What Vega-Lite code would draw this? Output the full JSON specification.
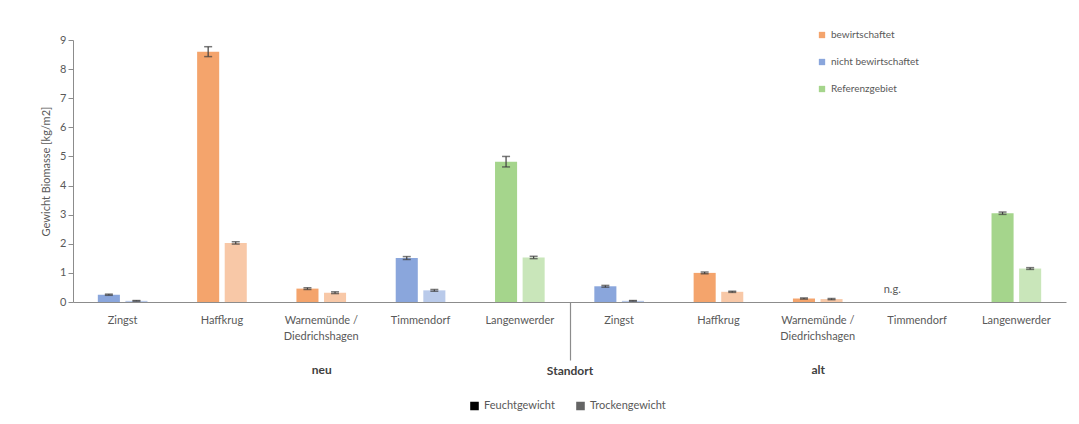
{
  "$schema": "https://vega.github.io/schema/vega-lite/v6.json",
  "width": 993,
  "height": 262,
  "padding": {"left": 40, "top": 30, "right": 5, "bottom": 5},
  "background": "white",
  "config": {
    "font": "Lato",
    "view": {"stroke": null},
    "axis": {"labelColor": "#595959", "titleColor": "#595959", "labelFontSize": 11, "titleFontSize": 11, "titleFontWeight": "normal", "domainColor": "#8c8c8c", "tickColor": "#8c8c8c", "grid": false},
    "axisY": {"values": [0, 1, 2, 3, 4, 5, 6, 7, 8, 9], "labelOverlap": false, "tickSize": 5, "titlePadding": 8}
  },
  "datasets": {
    "bars": [
      {"id": "neu|Zingst", "kategorie": "nicht bewirtschaftet", "art": "Feuchtgewicht", "wert": 0.25, "lo": 0.23, "hi": 0.27},
      {"id": "neu|Zingst", "kategorie": "nicht bewirtschaftet", "art": "Trockengewicht", "wert": 0.04, "lo": 0.03, "hi": 0.05},
      {"id": "neu|Haffkrug", "kategorie": "bewirtschaftet", "art": "Feuchtgewicht", "wert": 8.6, "lo": 8.43, "hi": 8.77},
      {"id": "neu|Haffkrug", "kategorie": "bewirtschaftet", "art": "Trockengewicht", "wert": 2.03, "lo": 1.99, "hi": 2.07},
      {"id": "neu|Warnemünde /~Diedrichshagen", "kategorie": "bewirtschaftet", "art": "Feuchtgewicht", "wert": 0.46, "lo": 0.43, "hi": 0.49},
      {"id": "neu|Warnemünde /~Diedrichshagen", "kategorie": "bewirtschaftet", "art": "Trockengewicht", "wert": 0.32, "lo": 0.29, "hi": 0.35},
      {"id": "neu|Timmendorf", "kategorie": "nicht bewirtschaftet", "art": "Feuchtgewicht", "wert": 1.51, "lo": 1.46, "hi": 1.56},
      {"id": "neu|Timmendorf", "kategorie": "nicht bewirtschaftet", "art": "Trockengewicht", "wert": 0.4, "lo": 0.37, "hi": 0.43},
      {"id": "neu|Langenwerder", "kategorie": "Referenzgebiet", "art": "Feuchtgewicht", "wert": 4.82, "lo": 4.64, "hi": 5.0},
      {"id": "neu|Langenwerder", "kategorie": "Referenzgebiet", "art": "Trockengewicht", "wert": 1.53, "lo": 1.49, "hi": 1.57},
      {"id": "alt|Zingst", "kategorie": "nicht bewirtschaftet", "art": "Feuchtgewicht", "wert": 0.54, "lo": 0.51, "hi": 0.57},
      {"id": "alt|Zingst", "kategorie": "nicht bewirtschaftet", "art": "Trockengewicht", "wert": 0.04, "lo": 0.03, "hi": 0.05},
      {"id": "alt|Haffkrug", "kategorie": "bewirtschaftet", "art": "Feuchtgewicht", "wert": 1.0, "lo": 0.97, "hi": 1.03},
      {"id": "alt|Haffkrug", "kategorie": "bewirtschaftet", "art": "Trockengewicht", "wert": 0.35, "lo": 0.33, "hi": 0.37},
      {"id": "alt|Warnemünde /~Diedrichshagen", "kategorie": "bewirtschaftet", "art": "Feuchtgewicht", "wert": 0.12, "lo": 0.1, "hi": 0.14},
      {"id": "alt|Warnemünde /~Diedrichshagen", "kategorie": "bewirtschaftet", "art": "Trockengewicht", "wert": 0.1, "lo": 0.08, "hi": 0.12},
      {"id": "alt|Timmendorf", "kategorie": "nicht bewirtschaftet", "art": "Feuchtgewicht", "wert": null, "lo": null, "hi": null, "note": "n.g."},
      {"id": "alt|Langenwerder", "kategorie": "Referenzgebiet", "art": "Feuchtgewicht", "wert": 3.05, "lo": 3.01, "hi": 3.09},
      {"id": "alt|Langenwerder", "kategorie": "Referenzgebiet", "art": "Trockengewicht", "wert": 1.15, "lo": 1.12, "hi": 1.18}
    ],
    "groups": [{"gruppe": "neu"}, {"gruppe": "alt"}]
  },
  "layer": [
    {
      "data": {"name": "bars"},
      "encoding": {
        "x": {
          "field": "id", "type": "nominal",
          "sort": ["neu|Zingst", "neu|Haffkrug", "neu|Warnemünde /~Diedrichshagen", "neu|Timmendorf", "neu|Langenwerder", "alt|Zingst", "alt|Haffkrug", "alt|Warnemünde /~Diedrichshagen", "alt|Timmendorf", "alt|Langenwerder"],
          "scale": {"paddingInner": 0.5, "paddingOuter": 0.25},
          "axis": {"orient": "bottom", "labelAngle": 0, "ticks": false, "labelPadding": 12, "labelLineHeight": 16, "labelExpr": "split(split(datum.value, '|')[1], '~')", "title": "Standort", "titleFontWeight": "bold", "titleFontSize": 12, "titleColor": "#404040", "titlePadding": 24}
        },
        "xOffset": {"field": "art", "type": "nominal", "sort": ["Feuchtgewicht", "Trockengewicht"], "scale": {"paddingInner": 0.2}}
      },
      "layer": [
        {
          "mark": {"type": "bar"},
          "encoding": {
            "y": {"field": "wert", "type": "quantitative", "scale": {"domain": [0, 9]}, "title": "Gewicht Biomasse [kg/m2]"},
            "color": {
              "field": "kategorie", "type": "nominal",
              "scale": {"domain": ["bewirtschaftet", "nicht bewirtschaftet", "Referenzgebiet"], "range": ["#F4A46C", "#8AA6DC", "#A5D58C"]},
              "legend": {"title": null, "orient": "none", "legendX": 744, "legendY": -10, "symbolType": "square", "symbolSize": 40, "labelFontSize": 10, "labelColor": "#595959", "rowPadding": 17, "symbolOpacity": 1}
            },
            "opacity": {
              "field": "art", "type": "nominal",
              "scale": {"domain": ["Feuchtgewicht", "Trockengewicht"], "range": [1, 0.6]},
              "legend": {"title": null, "orient": "none", "legendX": 396, "legendY": 360, "direction": "horizontal", "symbolType": "square", "symbolFillColor": "black", "symbolStrokeColor": "black", "symbolSize": 50, "labelFontSize": 11, "labelColor": "#595959", "columnPadding": 18}
            }
          }
        },
        {
          "mark": {"type": "rule", "color": "#404040", "strokeWidth": 1.2},
          "encoding": {"y": {"field": "lo", "type": "quantitative", "title": "Gewicht Biomasse [kg/m2]"}, "y2": {"field": "hi"}}
        },
        {
          "mark": {"type": "tick", "color": "#404040", "thickness": 1.5, "size": 8},
          "encoding": {"y": {"field": "hi", "type": "quantitative", "title": "Gewicht Biomasse [kg/m2]"}}
        },
        {
          "mark": {"type": "tick", "color": "#404040", "thickness": 1.5, "size": 8},
          "encoding": {"y": {"field": "lo", "type": "quantitative", "title": "Gewicht Biomasse [kg/m2]"}}
        },
        {
          "transform": [{"filter": "datum.note"}],
          "mark": {"type": "text", "dy": -12, "fontSize": 11, "color": "#595959"},
          "encoding": {"y": {"datum": 0, "type": "quantitative", "title": "Gewicht Biomasse [kg/m2]"}, "text": {"field": "note"}, "xOffset": {"value": 0}}
        }
      ]
    },
    {
      "data": {"name": "groups"},
      "mark": {"type": "tick", "opacity": 0},
      "encoding": {
        "x": {
          "field": "gruppe", "type": "nominal", "sort": ["neu", "alt"],
          "scale": {"paddingInner": 0, "paddingOuter": 0},
          "axis": {"orient": "bottom", "title": null, "domain": false, "labelAngle": 0, "tickBand": "extent", "tickSize": 58, "tickWidth": 1.2, "tickColor": "#8c8c8c", "tickOpacity": {"condition": {"test": "datum.value == 'neu'", "value": 1}, "value": 0}, "labelPadding": 4, "labelFontWeight": "bold", "labelFontSize": 12, "labelColor": "#404040"}
        }
      }
    }
  ],
  "resolve": {"scale": {"x": "independent"}, "axis": {"x": "independent"}}
}
